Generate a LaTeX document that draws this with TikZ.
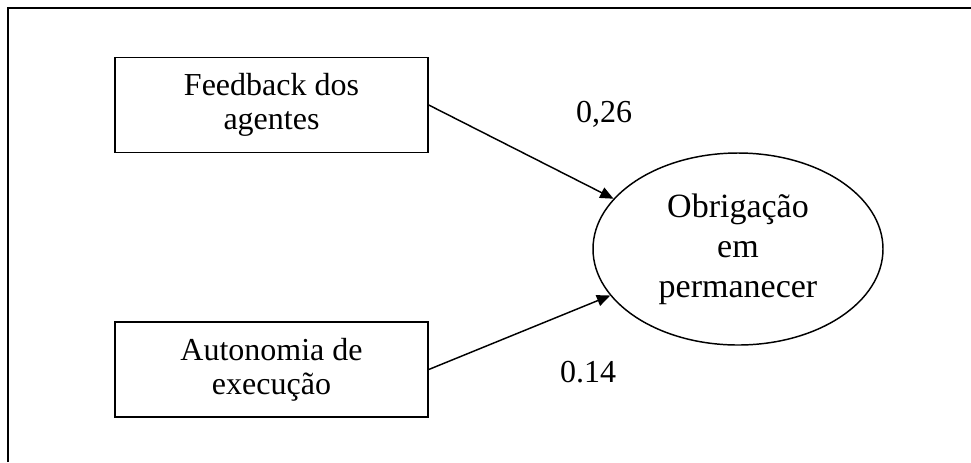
\documentclass[tikz,border=0pt]{standalone}
\usepackage{fontspec}
\setmainfont{Liberation Serif}
\usetikzlibrary{shapes.geometric,arrows.meta}
\tikzset{
  varbox/.style={draw, line width=1.1pt, rectangle, minimum width=234.75pt, minimum height=71.25pt, inner sep=0pt, align=center, font=\fontsize{24}{25.5}\selectfont},
  latent/.style={draw, line width=1.1pt, ellipse, minimum width=217.5pt, minimum height=144pt, inner sep=0pt, align=center, font=\fontsize{25.5}{30}\selectfont},
  path/.style={line width=1.1pt, -{Triangle[length=10pt,width=8.5pt]}},
  coef/.style={anchor=base, inner sep=0pt, font=\fontsize{24}{28}\selectfont}
}
\begin{document}
\begin{tikzpicture}[x=0.75pt,y=-0.75pt]
\useasboundingbox (0,0) rectangle (971,462);
\coordinate (ftl) at (8,8);
\coordinate (ftr) at (971,8);
\coordinate (fbl) at (8,462);
\draw[line width=1.6pt] (fbl) -- (ftl) -- (ftr);
\node[varbox] (fb) at (271.5,105) {Feedback dos\\agentes};
\node[varbox] (au) at (271.5,369.5) {Autonomia de\\execução};
\node[latent] (ob) at (738,249) {Obrigação\\em\\permanecer};
\draw[path] (fb.east) -- (ob.158);
\draw[path] (au.east) -- (ob.200);
\node[coef] (c1) at (604,122) {0,26};
\node[coef] (c2) at (588,382) {0.14};
\end{tikzpicture}
\end{document}
